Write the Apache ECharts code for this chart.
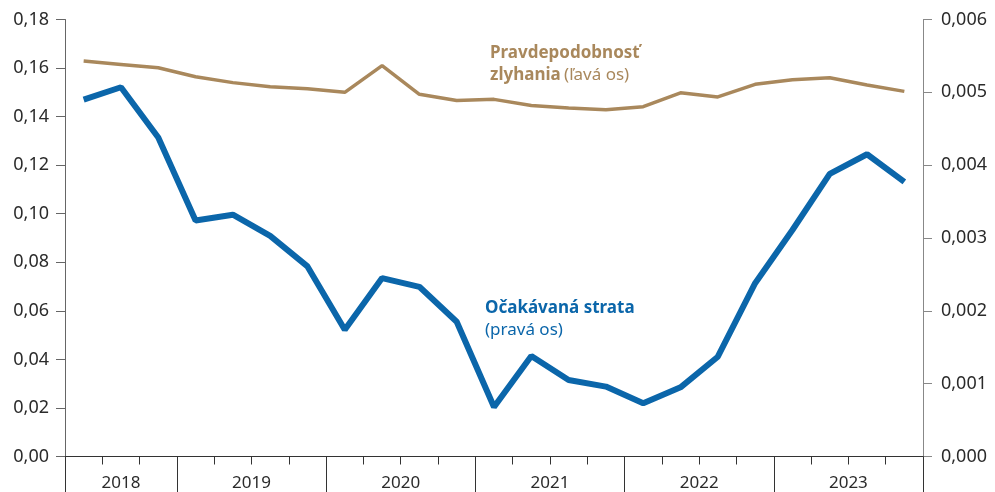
<!DOCTYPE html>
<html lang="sk">

<head>
  <meta charset="utf-8">
  <title>Pravdepodobnosť zlyhania a očakávaná strata</title>
  <style>
    html, body { margin: 0; padding: 0; background: #fff; }
    #chart-box { width: 995px; height: 492px; }
  </style>
</head>

<body>
  <div id="chart-box"></div>

  <script src="https://cdn.jsdelivr.net/npm/echarts@6/dist/echarts.min.js"></script>
  <script type='text/javascript'>
    // štvrťroky 2018 Q2 – 2023 Q4
    var quarters = ['2018Q2', '2018Q3', '2018Q4',
      '2019Q1', '2019Q2', '2019Q3', '2019Q4',
      '2020Q1', '2020Q2', '2020Q3', '2020Q4',
      '2021Q1', '2021Q2', '2021Q3', '2021Q4',
      '2022Q1', '2022Q2', '2022Q3', '2022Q4',
      '2023Q1', '2023Q2', '2023Q3', '2023Q4'];

    // pravdepodobnosť zlyhania (ľavá os)
    var pdValues = [0.1629, 0.1615, 0.1601, 0.1564, 0.1540, 0.1523, 0.1515, 0.1500,
      0.1610, 0.1492, 0.1466, 0.1471, 0.1446, 0.1435, 0.1428, 0.1441,
      0.1498, 0.1481, 0.1533, 0.1552, 0.1560, 0.1530, 0.1504];

    // očakávaná strata (pravá os)
    var elValues = [0.00490, 0.00507, 0.00438, 0.00324, 0.00332, 0.00303, 0.00261, 0.00174,
      0.00245, 0.00233, 0.00185, 0.00068, 0.00138, 0.00105, 0.00096, 0.00073,
      0.00095, 0.00137, 0.00238, 0.00311, 0.00388, 0.00415, 0.00377];

    var years = ['2018', '2019', '2020', '2021', '2022', '2023'];
    var yearBounds = [0, 3, 7, 11, 15, 19, 23];   // hranice rokov v počte štvrťrokov

    var yearCenters = [];
    for (var i = 0; i < years.length; i++) {
      yearCenters.push((yearBounds[i] + yearBounds[i + 1]) / 2);
    }

    var blue = '#0b66aa';
    var brown = '#a9885c';
    var txt = '#2b2b2b';
    var font = 'Noto Sans';

    var chart = echarts.init(document.querySelector('#chart-box'));

    chart.setOption({
      animation: false,
      textStyle: { fontFamily: font },
      grid: { left: 65, right: 72, top: 19.5, bottom: 35.5 },
      xAxis: [{
        type: 'category',
        data: quarters,
        boundaryGap: true,
        axisLine: { lineStyle: { color: '#333', width: 1 } },
        axisTick: { show: true, interval: 0, length: 8, lineStyle: { color: '#333' } },
        axisLabel: { show: false },
        splitLine: { show: false }
      }, {
        // roky – dlhé čiarky a popisy
        type: 'value',
        position: 'bottom',
        min: 0,
        max: 23,
        axisLine: { show: false },
        axisTick: { show: true, length: 36, customValues: yearBounds, lineStyle: { color: '#333' } },
        axisLabel: {
          customValues: yearCenters,
          margin: 18,
          fontSize: 17,
          color: txt,
          fontFamily: font,
          formatter: function (v) {
            var idx = yearCenters.indexOf(v);
            return idx >= 0 ? years[idx] : '';
          }
        },
        splitLine: { show: false }
      }],
      yAxis: [{
        type: 'value',
        min: 0,
        max: 0.18,
        interval: 0.02,
        axisLine: { show: true, lineStyle: { color: '#666' } },
        axisTick: { show: true, length: 9, lineStyle: { color: '#666' } },
        axisLabel: {
          margin: 16,
          fontSize: 18,
          color: txt,
          fontFamily: font,
          formatter: function (v) { return v.toFixed(2).replace('.', ','); }
        },
        splitLine: { show: false }
      }, {
        type: 'value',
        min: 0,
        max: 0.006,
        interval: 0.001,
        axisLine: { show: true, lineStyle: { color: '#888' } },
        axisTick: { show: true, length: 9, lineStyle: { color: '#888' } },
        axisLabel: {
          margin: 18,
          fontSize: 18,
          color: txt,
          fontFamily: font,
          formatter: function (v) { return v.toFixed(3).replace('.', ','); }
        },
        splitLine: { show: false }
      }],
      series: [{
        name: 'Pravdepodobnosť zlyhania',
        type: 'line',
        yAxisIndex: 0,
        data: pdValues,
        symbol: 'none',
        lineStyle: { color: brown, width: 3.5 },
        z: 2
      }, {
        name: 'Očakávaná strata',
        type: 'line',
        yAxisIndex: 1,
        data: elValues,
        symbol: 'none',
        lineStyle: { color: blue, width: 6 },
        z: 3
      }],
      graphic: [{
        type: 'text',
        left: 490,
        top: 45,
        style: {
          text: '{b|Pravdepodobnosť}\n{b|zlyhania} {n|(ľavá os)}',
          fill: brown,
          rich: {
            b: { fontFamily: font, fontWeight: 'bold', fontSize: 17, lineHeight: 22, fill: brown },
            n: { fontFamily: font, fontSize: 17, lineHeight: 22, fill: brown }
          }
        }
      }, {
        type: 'text',
        left: 485,
        top: 300,
        style: {
          text: '{b|Očakávaná strata}\n{n|(pravá os)}',
          fill: blue,
          rich: {
            b: { fontFamily: font, fontWeight: 'bold', fontSize: 17, lineHeight: 22, fill: blue },
            n: { fontFamily: font, fontSize: 17, lineHeight: 22, fill: blue }
          }
        }
      }]
    });
  </script>
</body>

</html>
